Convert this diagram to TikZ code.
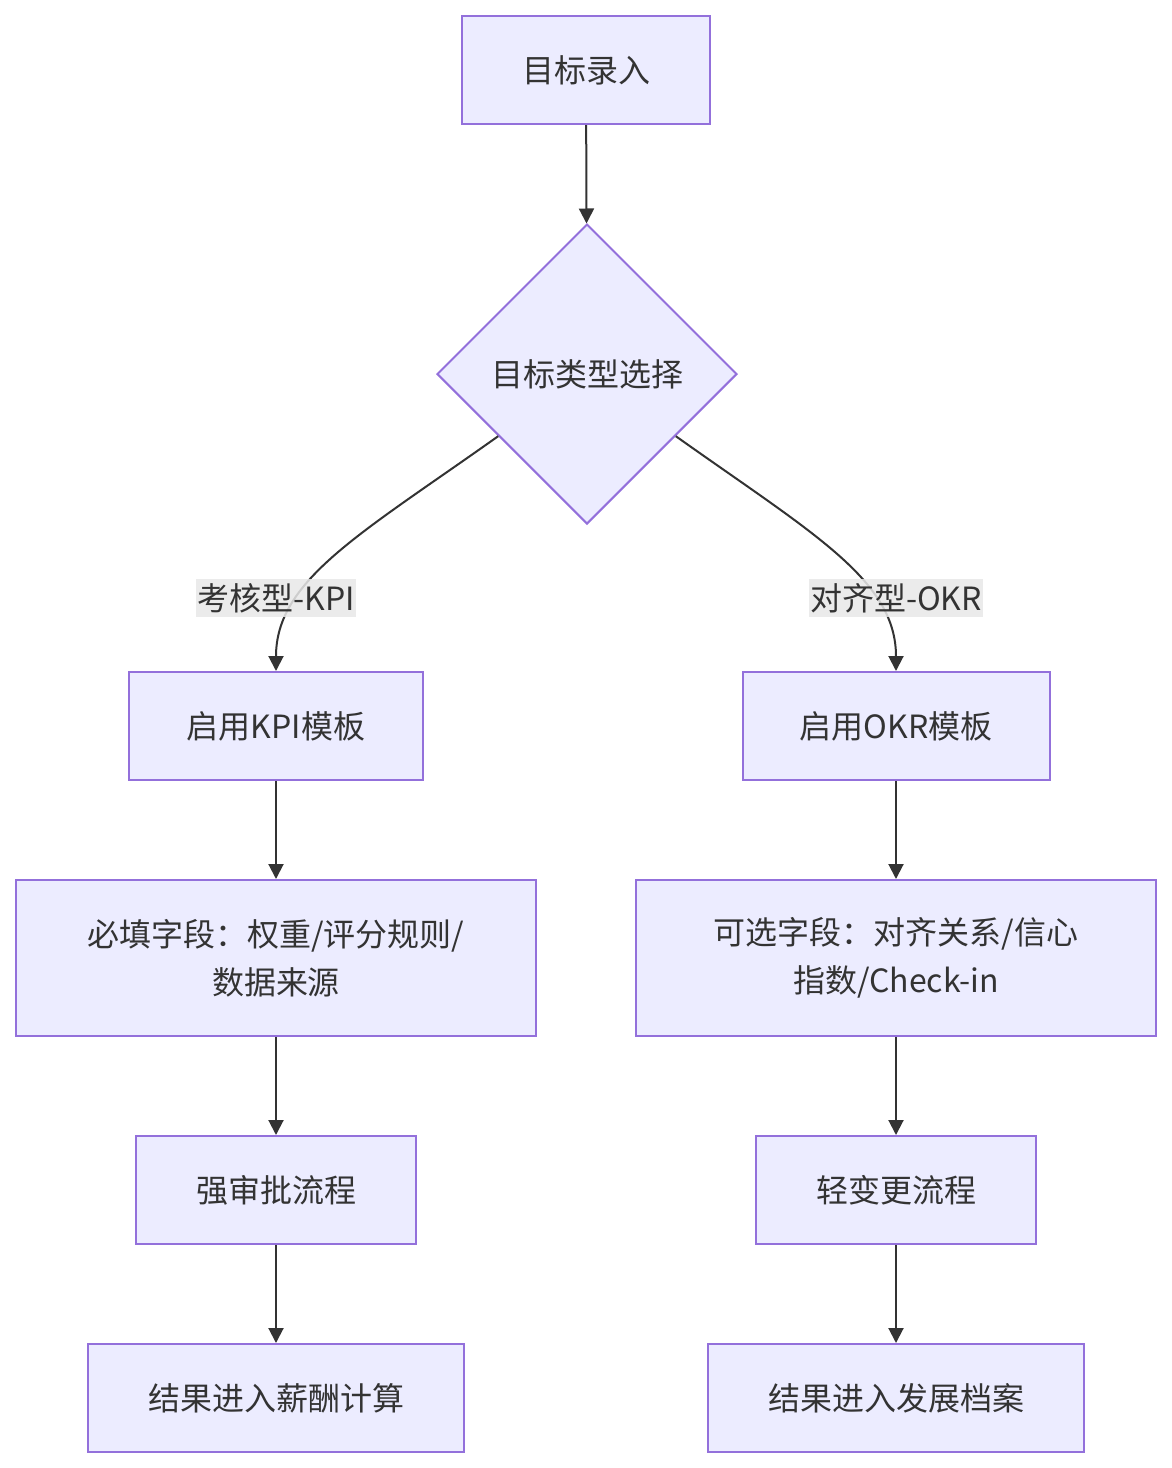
\documentclass[tikz,border=0pt]{standalone}
\usepackage{fontspec}
\setmainfont{Noto Sans CJK SC}
\usetikzlibrary{shapes.geometric,arrows.meta,calc}
\definecolor{nodefill}{HTML}{ECECFF}
\definecolor{nodeline}{HTML}{9370DB}
\definecolor{edgecol}{HTML}{333333}
\definecolor{lblbg}{HTML}{E8E8E8}
\begin{document}
\begin{tikzpicture}[x=1pt,y=-1pt,
  every node/.style={font=\fontsize{32}{48}\selectfont, text=edgecol},
  box/.style={draw=nodeline, fill=nodefill, line width=2pt, rectangle, inner sep=0pt, align=center},
  dec/.style={draw=nodeline, fill=nodefill, line width=2pt, diamond, minimum width=300pt, minimum height=300pt, inner sep=0pt},
  lbl/.style={fill=lblbg, fill opacity=0.85, text opacity=1, inner xsep=1pt, inner ysep=4pt},
  edge/.style={draw=edgecol, line width=2pt, -{Triangle[length=15pt,width=15pt]}}
]
\useasboundingbox (0,0) rectangle (1172,1468);
\node[box, minimum width=248pt, minimum height=108pt] (a) at (586,70) {目标录入};
\node[dec] (d) at (587,374) {目标类型选择};
\node[box, minimum width=294pt, minimum height=108pt] (b1) at (276,726) {启用KPI模板};
\node[box, minimum width=307pt, minimum height=108pt] (b2) at (896,726) {启用OKR模板};
\node[box, minimum width=520pt, minimum height=156pt] (c1) at (276,958) {必填字段：权重/评分规则/\\数据来源};
\node[box, minimum width=520pt, minimum height=156pt] (c2) at (896,958) {可选字段：对齐关系/信心\\指数/Check-in};
\node[box, minimum width=280pt, minimum height=108pt] (d1) at (276,1190) {强审批流程};
\node[box, minimum width=280pt, minimum height=108pt] (d2) at (896,1190) {轻变更流程};
\node[box, minimum width=376pt, minimum height=108pt] (e1) at (276,1398) {结果进入薪酬计算};
\node[box, minimum width=376pt, minimum height=108pt] (e2) at (896,1398) {结果进入发展档案};

\draw[edge] (a) -- (d);
\draw[edge] (d.215) .. controls ($(d.215)+(-138,98)$) and (276,580) .. (b1.north);
\draw[edge] (d.-35) .. controls ($(d.-35)+(138,98)$) and (896,580) .. (b2.north);
\node[lbl] (l1) at (276,598) {考核型-KPI};
\node[lbl] (l2) at (896,598) {对齐型-OKR};
\draw[edge] (b1) -- (c1);
\draw[edge] (c1) -- (d1);
\draw[edge] (d1) -- (e1);
\draw[edge] (b2) -- (c2);
\draw[edge] (c2) -- (d2);
\draw[edge] (d2) -- (e2);
\end{tikzpicture}
\end{document}
